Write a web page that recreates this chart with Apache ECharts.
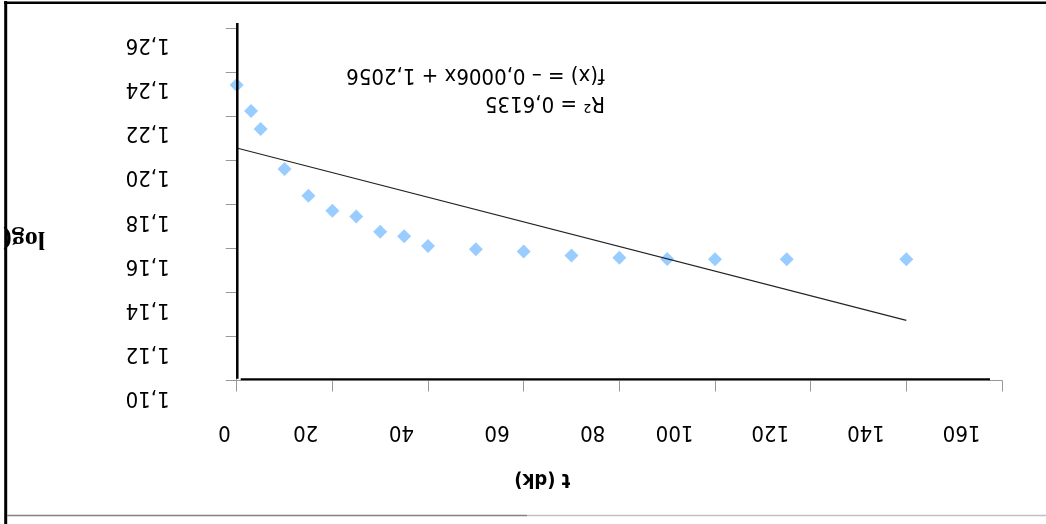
<!DOCTYPE html>
<html>
<head>
<meta charset="utf-8">
<script src="https://cdn.jsdelivr.net/npm/echarts@6/dist/echarts.min.js"></script>
<style>
html,body{margin:0;padding:0;background:#fff;}
#chart{width:1046px;height:524px;}
</style>
</head>
<body>
<div id="chart"></div>
<script>
// ---- data ----
const timeDays  = [0, 3, 5, 10, 15, 20, 25, 30, 35, 40, 50, 60, 70, 80, 90, 100, 115, 140];
const logValues = [1.2341, 1.2223, 1.2142, 1.1960, 1.1839, 1.1771, 1.1744, 1.1675, 1.1655, 1.1611,
                   1.1596, 1.1585, 1.1567, 1.1557, 1.1552, 1.1550, 1.1550, 1.1550];
const trendX = [0, 140];
const trendY = [1.2055, 1.1273];
const xMin = 0, xMax = 160, xStep = 20;
const yMin = 1.10, yMax = 1.26, yStep = 0.02;
const xTitle = 't (dk)';
const yTitle = 'log(';
const equationText = 'f(x) = – 0,0006x + 1,2056';
const r2Text = 'R² = 0,6135';

const FONT = '"DejaVu Sans Condensed", "DejaVu Sans", sans-serif';

const scatterData = timeDays.map((t, i) => [t, logValues[i]]);
const trendData = trendX.map((t, i) => [t, trendY[i]]);

const chart = echarts.init(document.getElementById('chart'), null, {renderer: 'canvas'});

const option = {
  animation: false,
  backgroundColor: '#ffffff',
  grid: {left: 236.7, right: 44, top: 28, bottom: 143.5, containLabel: false},
  xAxis: {
    type: 'value', min: xMin, max: xMax, interval: xStep,
    name: xTitle, nameLocation: 'middle', nameRotate: 180, nameGap: 98.5,
    nameTextStyle: {fontFamily: FONT, fontSize: 20, fontWeight: 'bold', color: '#000',
                    align: 'left', verticalAlign: 'middle', padding: [0, 0, 0, 49]},
    axisLine: {show: true, onZero: false, lineStyle: {color: '#999999', width: 1}},
    axisTick: {show: true, length: 11, lineStyle: {color: '#999999', width: 1}},
    splitLine: {show: false},
    axisLabel: {
      rotate: 180, margin: 51.5, align: 'left', verticalAlign: 'middle',
      fontFamily: FONT, fontSize: 22, color: '#000',
      formatter: v => '{p' + String(v).length + '|' + v + '}',
      rich: {
        p1: {fontFamily: FONT, fontSize: 22, color: '#000', padding: [0, 0, 0, 6]},
        p2: {fontFamily: FONT, fontSize: 22, color: '#000', padding: [0, 0, 0, 14]},
        p3: {fontFamily: FONT, fontSize: 22, color: '#000', padding: [0, 0, 0, 21.5]}
      }
    }
  },
  yAxis: {
    type: 'value', min: yMin, max: yMax, interval: yStep,
    name: yTitle, nameLocation: 'middle', nameRotate: 180, nameGap: 191.7,
    nameTextStyle: {fontFamily: '"Liberation Serif", serif', fontSize: 26, fontWeight: 'bold', color: '#000',
                    align: 'left', verticalAlign: 'bottom', lineHeight: 68},
    axisLine: {show: true, onZero: false, lineStyle: {color: '#999999', width: 1}},
    axisTick: {show: true, length: 11, lineStyle: {color: '#999999', width: 1}},
    splitLine: {show: false},
    axisLabel: {
      rotate: 180, margin: 67, align: 'left', verticalAlign: 'bottom', lineHeight: 34,
      fontFamily: FONT, fontSize: 22, color: '#000',
      formatter: v => v.toFixed(2).replace('.', ',')
    }
  },
  series: [
    {
      type: 'scatter', data: scatterData, symbol: 'diamond', symbolSize: 14,
      itemStyle: {color: '#99CCFF', opacity: 1}, z: 3
    },
    {
      type: 'line', data: trendData, symbol: 'none', showSymbol: false,
      lineStyle: {color: '#222222', width: 1.1}, z: 4, silent: true
    }
  ],
  graphic: [
    {type: 'line', shape: {x1: 5.7, y1: 1, x2: 5.7, y2: 524}, style: {stroke: '#000', lineWidth: 3}, z: 100},
    {type: 'line', shape: {x1: 4, y1: 2.8, x2: 1046, y2: 2.8}, style: {stroke: '#000', lineWidth: 2.4}, z: 100},
    {type: 'line', shape: {x1: 7, y1: 515.5, x2: 527, y2: 515.5}, style: {stroke: '#808080', lineWidth: 1.5}, z: 100},
    {type: 'line', shape: {x1: 527, y1: 515.5, x2: 1046, y2: 515.5}, style: {stroke: '#c0c0c0', lineWidth: 1.5}, z: 100},
    {type: 'line', shape: {x1: 237.3, y1: 23, x2: 237.3, y2: 378.7}, style: {stroke: '#000', lineWidth: 2.5}, z: 50},
    {type: 'line', shape: {x1: 240.7, y1: 379.3, x2: 990, y2: 379.3}, style: {stroke: '#000', lineWidth: 2}, z: 50},
    {type: 'text', x: 605, y: 75, rotation: Math.PI,
     style: {text: equationText, font: '22px ' + FONT, fill: '#000', align: 'left', verticalAlign: 'middle'}, z: 60},
    {type: 'text', x: 605, y: 103, rotation: Math.PI,
     style: {text: r2Text, font: '22px ' + FONT, fill: '#000', align: 'left', verticalAlign: 'middle'}, z: 60}
  ]
};
chart.setOption(option);
</script>
</body>
</html>
